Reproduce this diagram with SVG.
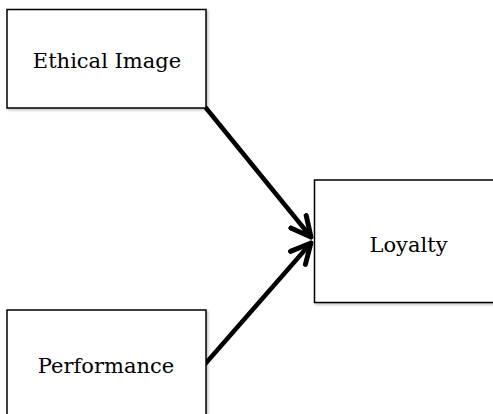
<svg xmlns="http://www.w3.org/2000/svg" width="493" height="414" viewBox="0 0 493 414">
  <defs>
    <filter id="shadow" x="-10%" y="-10%" width="130%" height="130%">
      <feDropShadow dx="1.5" dy="1.5" stdDeviation="1.2" flood-color="#000" flood-opacity="0.25"/>
    </filter>
    <marker id="chevron" viewBox="0 0 10 10" refX="9" refY="5" markerWidth="5.5" markerHeight="5.5" markerUnits="strokeWidth" orient="auto">
      <path d="M1,1 L9,5 L1,9" fill="none" stroke="#000" stroke-width="2" stroke-linecap="round" stroke-linejoin="round"/>
    </marker>
    <style>
      .box { fill: #fff; stroke: #000; stroke-width: 1.5; filter: url(#shadow); }
      .label { font-family: "DejaVu Serif", "Liberation Serif", serif; font-size: 21px; fill: #000; text-anchor: middle; }
      .edge { fill: none; stroke: #000; stroke-width: 4.5; stroke-linecap: round; marker-end: url(#chevron); }
    </style>
  </defs>
  <rect width="493" height="414" fill="#fff"/>
  <g id="edges">
    <line class="edge" x1="206" y1="108" x2="311" y2="237"/>
    <line class="edge" x1="206" y1="363" x2="311" y2="243"/>
  </g>
  <g id="ethical-image">
    <rect class="box" x="7" y="9.5" width="199" height="98.5"/>
    <text class="label" x="107" y="68">Ethical Image</text>
  </g>
  <g id="loyalty">
    <rect class="box" x="314.5" y="180" width="190" height="122.5"/>
    <text class="label" x="408.5" y="252">Loyalty</text>
  </g>
  <g id="performance">
    <rect class="box" x="7" y="310" width="199" height="120"/>
    <text class="label" x="106" y="373">Performance</text>
  </g>
</svg>
